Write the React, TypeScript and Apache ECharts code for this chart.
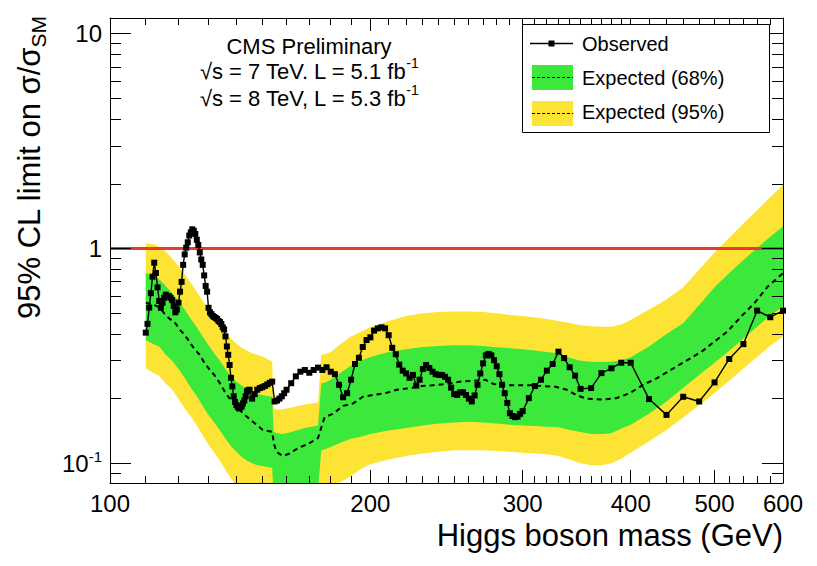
import React, { useEffect, useRef } from "react";
import * as echarts from "echarts";

const FONT = '"Liberation Sans", Arial, Helvetica, sans-serif';
const YELLOW = "#fde334";
const GREEN = "#3ce83c";
const RED = "#ea3a2a";

// Observed limit
const obsMass = [
  110, 110.5, 111, 111.5, 112, 112.5, 113, 113.5, 114, 114.5, 115, 115.5, 116, 116.5, 117, 117.5,
  118, 118.5, 119, 119.5, 120, 120.5, 121, 121.5, 122, 122.5, 123, 123.5, 124, 124.5, 125, 125.5,
  126, 126.5, 127, 127.5, 128, 128.5, 129, 129.5, 130, 130.5, 131, 131.5, 132, 132.5, 133, 133.5,
  134, 134.5, 135, 135.5, 136, 136.5, 137, 137.5, 138, 138.5, 139, 139.5, 140, 140.5, 141, 141.5,
  142, 142.5, 143, 143.5, 144, 144.5, 145, 146, 147, 148, 149, 150, 151, 152, 153, 154, 155, 156,
  157, 158, 159, 160, 162, 164, 166, 168, 170, 172, 174, 176, 178, 180, 182, 184, 186, 188, 190,
  192, 194, 196, 198, 200, 202, 204, 206, 208, 210, 212, 214, 216, 218, 220, 222, 224, 226, 228,
  230, 232, 234, 236, 238, 240, 242, 244, 246, 248, 250, 252, 254, 256, 258, 260, 262, 264, 266,
  268, 270, 272, 274, 276, 278, 280, 282, 284, 286, 288, 290, 292, 294, 296, 298, 300, 305, 310,
  315, 320, 325, 330, 335, 340, 345, 350, 360, 370, 380, 390, 400, 420, 440, 460, 480, 500, 520,
  540, 560, 580, 600,
];
const obsLimit = [
  0.406, 0.446, 0.531, 0.62, 0.74, 0.86, 0.77, 0.66, 0.57, 0.53, 0.56, 0.59, 0.61, 0.6, 0.6, 0.59,
  0.575, 0.54, 0.505, 0.52, 0.56, 0.63, 0.7, 0.84, 0.94, 1.01, 1.07, 1.15, 1.19, 1.23, 1.21, 1.17,
  1.1, 1.04, 0.96, 0.89, 0.84, 0.75, 0.67, 0.63, 0.53, 0.505, 0.495, 0.485, 0.48, 0.475, 0.47, 0.46,
  0.455, 0.445, 0.43, 0.42, 0.39, 0.35, 0.32, 0.287, 0.25, 0.228, 0.205, 0.193, 0.187, 0.183, 0.18, 0.182,
  0.184, 0.19, 0.196, 0.205, 0.216, 0.219, 0.22, 0.2, 0.21, 0.22, 0.224, 0.226, 0.229, 0.233, 0.237, 0.24, 0.194, 0.196,
  0.2, 0.205, 0.212, 0.22, 0.236, 0.254, 0.267, 0.272, 0.264, 0.272, 0.279, 0.272, 0.28, 0.267, 0.26, 0.232, 0.203, 0.212, 0.245,
  0.29, 0.31, 0.348, 0.375, 0.386, 0.415, 0.425, 0.43, 0.425, 0.395, 0.345, 0.322, 0.288, 0.27, 0.262, 0.25, 0.258, 0.23, 0.245,
  0.275, 0.287, 0.278, 0.267, 0.26, 0.258, 0.258, 0.253, 0.245, 0.225, 0.21, 0.208, 0.214, 0.214, 0.208, 0.2, 0.194, 0.207, 0.232,
  0.262, 0.292, 0.318, 0.323, 0.318, 0.302, 0.283, 0.26, 0.232, 0.212, 0.191, 0.171, 0.166, 0.164, 0.165, 0.17, 0.175, 0.201, 0.229,
  0.245, 0.27, 0.29, 0.331, 0.309, 0.28, 0.256, 0.222, 0.224, 0.263, 0.277, 0.294, 0.294, 0.199, 0.168, 0.204, 0.194, 0.238, 0.306,
  0.359, 0.514, 0.479, 0.514,
];

// Expected median
const expMass = [
  110, 112, 114, 115.5, 117, 119, 120.5, 122, 123.5, 125, 127, 128.5, 130, 132, 134, 135.5, 137, 139,
  142.4, 146.3, 150.2, 154, 154.7, 155.7, 158.5, 161.3, 164.9, 169.4, 174, 175.6, 177.1, 181, 186, 191,
  196, 201.5, 208, 214.6, 222.4, 229.5, 236, 245, 254, 263, 271.5, 277.6, 285, 295, 305.5, 316, 327.5,
  337.5, 346, 355.5, 371, 385, 399, 413.5, 429, 445, 465.5, 483, 500, 517.5, 536.5, 556, 576, 600,
];
const expMedian = [
  0.56, 0.55, 0.533, 0.5, 0.474, 0.449, 0.418, 0.396, 0.369, 0.344, 0.32, 0.295, 0.277, 0.258, 0.236, 0.218, 0.204, 0.192,
  0.171, 0.156, 0.143, 0.14, 0.124, 0.113, 0.108, 0.111, 0.1175, 0.123, 0.131, 0.148, 0.164, 0.17, 0.185, 0.19,
  0.204, 0.208, 0.212, 0.22, 0.224, 0.229, 0.231, 0.234, 0.24, 0.242, 0.245, 0.234, 0.231, 0.231, 0.231, 0.229, 0.227,
  0.22, 0.208, 0.2, 0.198, 0.201, 0.212, 0.232, 0.249, 0.272, 0.303, 0.331, 0.369, 0.411, 0.482, 0.557, 0.665, 0.768,
];

// Expected bands
const bandMass = [
  110, 112, 114, 116, 118, 120, 122, 124, 126, 128, 130, 132, 134, 136, 138, 140, 142, 144, 146, 148, 150,
  152, 154, 154.6, 156, 158, 160, 162, 165, 168, 171, 174, 175.5, 177, 180, 185, 190, 195, 200, 210, 220,
  230, 240, 250, 260, 270, 280, 290, 300, 310, 320, 330, 340, 350, 360, 370, 380, 390, 400, 420, 440, 460,
  480, 500, 520, 540, 560, 580, 600,
];
const band95Hi = [
  1.06, 1.05, 1.02, 0.97, 0.9, 0.83, 0.76, 0.69, 0.63, 0.57, 0.52, 0.48, 0.44, 0.41, 0.38, 0.36, 0.345, 0.335, 0.325, 0.32, 0.314,
  0.306, 0.298, 0.18, 0.178, 0.178, 0.18, 0.182, 0.185, 0.188, 0.19, 0.192, 0.32, 0.322, 0.33, 0.36, 0.39, 0.41, 0.43, 0.46, 0.485,
  0.5, 0.507, 0.51, 0.51, 0.507, 0.5, 0.49, 0.485, 0.478, 0.47, 0.46, 0.45, 0.44, 0.435, 0.432, 0.433, 0.443, 0.465, 0.52, 0.58, 0.66,
  0.8, 0.96, 1.125, 1.31, 1.51, 1.74, 1.98,
];
const band68Hi = [
  0.77, 0.75, 0.72, 0.67, 0.62, 0.57, 0.52, 0.47, 0.43, 0.39, 0.355, 0.325, 0.3, 0.275, 0.255, 0.24, 0.23, 0.222, 0.215, 0.21, 0.208,
  0.206, 0.204, 0.14, 0.138, 0.137, 0.138, 0.14, 0.143, 0.146, 0.148, 0.15, 0.235, 0.237, 0.245, 0.265, 0.285, 0.3, 0.313, 0.33, 0.34,
  0.348, 0.352, 0.355, 0.355, 0.352, 0.347, 0.343, 0.34, 0.335, 0.33, 0.325, 0.31, 0.3, 0.297, 0.296, 0.297, 0.302, 0.312, 0.35, 0.4, 0.449,
  0.546, 0.66, 0.77, 0.886, 1.006, 1.135, 1.27,
];
const band68Lo = [
  0.375, 0.36, 0.35, 0.32, 0.3, 0.275, 0.25, 0.225, 0.205, 0.185, 0.168, 0.155, 0.142, 0.13, 0.12, 0.113, 0.107, 0.103, 0.1, 0.098, 0.097,
  0.096, 0.095, 0.07, 0.068, 0.068, 0.069, 0.07, 0.071, 0.072, 0.074, 0.075, 0.115, 0.116, 0.119, 0.125, 0.13, 0.133, 0.137, 0.142, 0.146,
  0.15, 0.153, 0.155, 0.156, 0.155, 0.153, 0.151, 0.15, 0.149, 0.148, 0.147, 0.143, 0.14, 0.137, 0.137, 0.138, 0.145, 0.151, 0.17, 0.194, 0.2245,
  0.258, 0.294, 0.334, 0.381, 0.432, 0.488, 0.537,
];
const band95Lo = [
  0.277, 0.265, 0.255, 0.235, 0.22, 0.2, 0.18, 0.165, 0.15, 0.135, 0.122, 0.112, 0.103, 0.093, 0.085, 0.079, 0.075, 0.072, 0.07, 0.068, 0.067,
  0.066, 0.065, 0.05, 0.049, 0.049, 0.05, 0.05, 0.051, 0.052, 0.053, 0.055, 0.076, 0.077, 0.079, 0.082, 0.087, 0.094, 0.099, 0.104, 0.108,
  0.111, 0.113, 0.115, 0.115, 0.115, 0.114, 0.113, 0.112, 0.111, 0.11, 0.108, 0.104, 0.1, 0.098, 0.098, 0.1, 0.105, 0.112, 0.1265, 0.143, 0.1633,
  0.1864, 0.2127, 0.242, 0.276, 0.313, 0.353, 0.389,
];

// Axis ticks / labels
const xLabelValues = [100, 200, 300, 400, 500, 600];
const xMinorTicks = [
  110, 120, 130, 140, 150, 160, 170, 180, 190, 210, 220, 230, 240, 250, 260, 270, 280, 290,
  310, 320, 330, 340, 350, 360, 370, 380, 390, 420, 440, 460, 480, 520, 540, 560, 580,
];
const yLabelValues = [0.1, 1, 10];
const yMinorTicks = [0.09, 0.2, 0.3, 0.4, 0.5, 0.6, 0.7, 0.8, 0.9, 2, 3, 4, 5, 6, 7, 8, 9];
const xMin = 100;
const xMax = 600;
const yMin = 0.0809;
const yMax = 11.87;

const pairs = (xs: number[], ys: number[]) => xs.map((x, i) => [x, ys[i]]);
const crisp = (v: number) => Math.round(v - 0.5) + 0.5;

function bandSeries(lo: number[], hi: number[], color: string, z: number) {
  return {
    type: "custom",
    xAxisIndex: 0,
    yAxisIndex: 0,
    clip: true,
    silent: true,
    z,
    data: bandMass.map((m, i) => [m, lo[i], hi[i]]),
    encode: { x: 0, y: [1, 2] },
    renderItem: (params: any, api: any) => {
      if (params.dataIndex !== 0) return null;
      const pts: number[][] = [];
      for (let i = 0; i < bandMass.length; i++) pts.push(api.coord([bandMass[i], hi[i]]));
      for (let i = bandMass.length - 1; i >= 0; i--) pts.push(api.coord([bandMass[i], lo[i]]));
      return { type: "polygon", shape: { points: pts }, style: { fill: color, stroke: null } };
    },
  };
}

function xTickSeries() {
  const data = [...xLabelValues.map((v) => [v, 13]), ...xMinorTicks.map((v) => [v, 7])];
  return {
    type: "custom",
    xAxisIndex: 0,
    yAxisIndex: 0,
    clip: false,
    silent: true,
    z: 20,
    data: data.map((d) => [d[0], 1, d[1]]),
    encode: { x: 0, y: 1 },
    renderItem: (params: any, api: any) => {
      const v = api.value(0);
      const len = api.value(2);
      const cs = params.coordSys;
      const x = crisp(api.coord([v, 1])[0]);
      const yb = cs.y + cs.height;
      const yt = cs.y;
      return {
        type: "group",
        children: [
          { type: "line", shape: { x1: x, y1: yb, x2: x, y2: yb - len }, style: { stroke: "#000", lineWidth: 1 } },
          { type: "line", shape: { x1: x, y1: yt, x2: x, y2: yt + len }, style: { stroke: "#000", lineWidth: 1 } },
        ],
      };
    },
  };
}

function yTickSeries() {
  const data = [...yLabelValues.map((v) => [v, 21]), ...yMinorTicks.map((v) => [v, 11])];
  return {
    type: "custom",
    xAxisIndex: 0,
    yAxisIndex: 0,
    clip: false,
    silent: true,
    z: 20,
    data: data.map((d) => [200, d[0], d[1]]),
    encode: { x: 0, y: 1 },
    renderItem: (params: any, api: any) => {
      const v = api.value(1);
      const len = api.value(2);
      const cs = params.coordSys;
      const y = crisp(api.coord([200, v])[1]);
      const xl = cs.x;
      const xr = cs.x + cs.width;
      return {
        type: "group",
        children: [
          { type: "line", shape: { x1: xl, y1: y, x2: xl + len, y2: y }, style: { stroke: "#000", lineWidth: 1 } },
          { type: "line", shape: { x1: xr, y1: y, x2: xr - len, y2: y }, style: { stroke: "#000", lineWidth: 1 } },
        ],
      };
    },
  };
}

function buildOption() {
  const xAx = (position: string, labels: boolean) => ({
    type: "log",
    logBase: 10,
    position,
    min: xMin,
    max: xMax,
    z: 10,
    axisLine: { show: true, onZero: false, lineStyle: { color: "#000", width: 1 } },
    axisTick: { show: false },
    axisLabel: labels
      ? {
          show: true,
          customValues: xLabelValues,
          fontSize: 24,
          color: "#000",
          fontFamily: FONT,
          margin: 8,
          formatter: (v: number) => String(Math.round(v)),
        }
      : { show: false },
    splitLine: { show: false },
    minorTick: { show: false },
  });
  const yAx = (position: string, labels: boolean) => ({
    type: "log",
    logBase: 10,
    position,
    min: yMin,
    max: yMax,
    z: 10,
    axisLine: { show: true, onZero: false, lineStyle: { color: "#000", width: 1 } },
    axisTick: { show: false },
    axisLabel: labels
      ? {
          show: true,
          customValues: yLabelValues,
          margin: 8,
          color: "#000",
          fontFamily: FONT,
          formatter: (v: number) => {
            if (Math.abs(v - 0.1) < 1e-9) return "{n|10}{s|-1}";
            if (Math.abs(v - 1) < 1e-9) return "{n|1}";
            return "{n|10}";
          },
          rich: {
            n: { fontSize: 24, lineHeight: 28, color: "#000", fontFamily: FONT },
            s: { fontSize: 15, lineHeight: 14, verticalAlign: "top", color: "#000", fontFamily: FONT },
          },
        }
      : { show: false },
    splitLine: { show: false },
    minorTick: { show: false },
  });

  const textEl = (x: number, y: number, text: string, size: number, align: string, z = 100) => ({
    type: "text",
    x,
    y,
    z,
    style: {
      text,
      fontSize: size,
      fontFamily: FONT,
      fill: "#000",
      align,
      verticalAlign: "middle",
    },
  });

  const supText = (y: number, text: string) => ({
    type: "text",
    x: 309,
    y,
    z: 100,
    style: {
      text,
      align: "center",
      verticalAlign: "middle",
      fill: "#000",
      rich: {
        m: { fontSize: 22, lineHeight: 30, fontFamily: FONT, fill: "#000" },
        s: { fontSize: 14, lineHeight: 14, verticalAlign: "top", fontFamily: FONT, fill: "#000" },
      },
    },
  });

  return {
    animation: false,
    backgroundColor: "#fff",
    textStyle: { fontFamily: FONT },
    grid: { left: 110, right: 34, top: 18, bottom: 83, containLabel: false, outerBoundsMode: "none" },
    xAxis: [xAx("bottom", true), xAx("top", false)],
    yAxis: [yAx("left", true), yAx("right", false)],
    series: [
      bandSeries(band95Lo, band95Hi, YELLOW, 1),
      bandSeries(band68Lo, band68Hi, GREEN, 2),
      {
        type: "line",
        xAxisIndex: 0,
        yAxisIndex: 0,
        data: pairs(expMass, expMedian),
        symbol: "none",
        lineStyle: { color: "#000", width: 2, type: [5, 4] },
        silent: true,
        z: 3,
      },
      {
        type: "line",
        xAxisIndex: 0,
        yAxisIndex: 0,
        data: [
          [xMin, 1],
          [xMax, 1],
        ],
        symbol: "none",
        lineStyle: { color: RED, width: 3 },
        silent: true,
        z: 4,
      },
      {
        type: "line",
        xAxisIndex: 0,
        yAxisIndex: 0,
        data: pairs(obsMass, obsLimit),
        symbol: "rect",
        symbolSize: 6,
        showSymbol: true,
        showAllSymbol: true,
        itemStyle: { color: "#000" },
        lineStyle: { color: "#000", width: 1.4 },
        silent: true,
        z: 5,
      },
      xTickSeries(),
      yTickSeries(),
    ],
    graphic: [
      // y-axis title
      {
        type: "text",
        x: 29,
        y: 16,
        rotation: Math.PI / 2,
        z: 100,
        style: {
          text: "{m|95% CL limit on σ/σ}{sub|SM}",
          align: "right",
          verticalAlign: "middle",
          fill: "#000",
          rich: {
            m: { fontSize: 31, lineHeight: 40, fontFamily: FONT, fill: "#000" },
            sub: { fontSize: 21, lineHeight: 24, verticalAlign: "bottom", fontFamily: FONT, fill: "#000" },
          },
        },
      },
      // x-axis title
      textEl(783, 535, "Higgs boson mass (GeV)", 31, "right"),
      // CMS label
      textEl(309, 46, "CMS Preliminary", 22, "center"),
      supText(71, "{m|√s = 7 TeV. L = 5.1 fb}{s|-1}"),
      supText(98, "{m|√s = 8 TeV, L = 5.3 fb}{s|-1}"),
      // legend box
      {
        type: "rect",
        z: 100,
        shape: { x: 522.5, y: 24.5, width: 247, height: 108 },
        style: { fill: "#fff", stroke: "#000", lineWidth: 1 },
      },
      {
        type: "line",
        z: 101,
        shape: { x1: 530, y1: 43.5, x2: 573, y2: 43.5 },
        style: { stroke: "#000", lineWidth: 1.4 },
      },
      {
        type: "rect",
        z: 101,
        shape: { x: 548.5, y: 40.5, width: 6, height: 6 },
        style: { fill: "#000" },
      },
      {
        type: "rect",
        z: 101,
        shape: { x: 532, y: 65, width: 41, height: 25 },
        style: { fill: GREEN },
      },
      {
        type: "line",
        z: 102,
        shape: { x1: 532, y1: 77.5, x2: 573, y2: 77.5 },
        style: { stroke: "#000", lineWidth: 1, lineDash: [3, 2] },
      },
      {
        type: "rect",
        z: 101,
        shape: { x: 532, y: 101, width: 41, height: 25 },
        style: { fill: YELLOW },
      },
      {
        type: "line",
        z: 102,
        shape: { x1: 532, y1: 113.5, x2: 573, y2: 113.5 },
        style: { stroke: "#000", lineWidth: 1, lineDash: [3, 2] },
      },
      textEl(582, 44, "Observed", 20, "left", 102),
      textEl(582, 78, "Expected (68%)", 20, "left", 102),
      textEl(582, 112, "Expected (95%)", 20, "left", 102),
    ],
  };
}

export default function App() {
  const ref = useRef<HTMLDivElement>(null);
  useEffect(() => {
    if (!ref.current) return;
    const chart = echarts.init(ref.current, null, { renderer: "svg" });
    chart.setOption(buildOption() as any);
    return () => {
      chart.dispose();
    };
  }, []);
  return (
    <div
      ref={ref}
      style={{ position: "fixed", left: 0, top: 0, width: 817, height: 566, background: "#fff" }}
    />
  );
}
